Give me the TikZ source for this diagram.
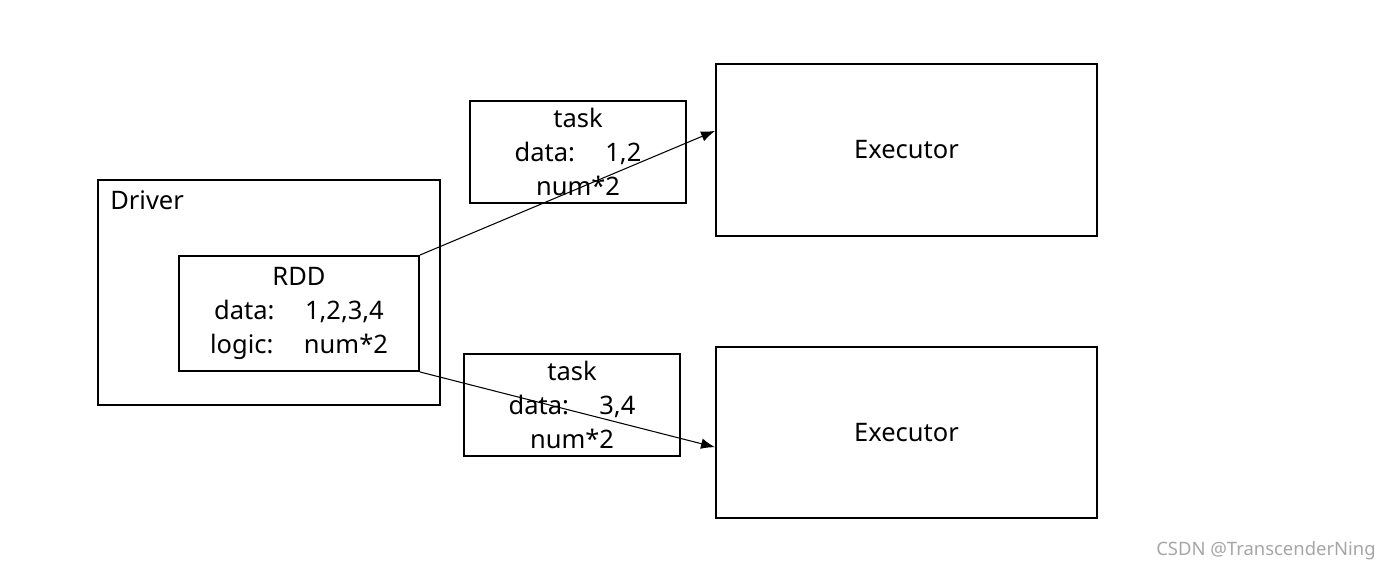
\documentclass[tikz,border=0pt]{standalone}
\usepackage{fontspec}
\setmainfont{Noto Sans}
\usetikzlibrary{arrows.meta,calc}

\begin{document}
\begin{tikzpicture}[x=0.02cm,y=-0.02cm,
    box/.style={rectangle,draw,line width=1.1pt,inner sep=0pt,align=center,
        font=\fontsize{14.5}{19.2}\selectfont},
    link/.style={-{Latex[length=8pt,width=6pt]},line width=0.6pt}]
    \useasboundingbox (0,0) rectangle (1391,571);
    % driver side
    \node[box,minimum width=6.84cm,minimum height=4.5cm] (driver) at (269,292.5) {};
    \node[anchor=north west,font=\fontsize{14.5}{19}\selectfont,inner sep=0pt] (drivertxt) at (110,190) {Driver};
    \node[box,minimum width=4.8cm,minimum height=2.3cm] (rdd) at (299,313.5)
        {RDD\\data:\hspace{1.2em}1,2,3,4\\logic:\hspace{1.2em}num*2};
    % tasks
    \node[box,minimum width=4.32cm,minimum height=2.04cm] (task1) at (578,152)
        {task\\data:\hspace{1.2em}1,2\\num*2};
    \node[box,minimum width=4.32cm,minimum height=2.04cm] (task2) at (572,405)
        {task\\data:\hspace{1.2em}3,4\\num*2};
    % executors
    \node[box,minimum width=7.62cm,minimum height=3.44cm] (exec1) at (906.5,150) {Executor};
    \node[box,minimum width=7.62cm,minimum height=3.42cm] (exec2) at (906.5,432.5) {Executor};
    \draw[link] (rdd.north east) -- ($(exec1.north west)!0.39!(exec1.south west)$);
    \draw[link] (rdd.south east) -- ($(exec2.north west)!0.585!(exec2.south west)$);
    % watermark
    \node[anchor=east,text=gray!70,font=\fontsize{10.5}{12}\selectfont,inner sep=0pt] (mark) at (1376,551) {CSDN @TranscenderNing};
\end{tikzpicture}
\end{document}
